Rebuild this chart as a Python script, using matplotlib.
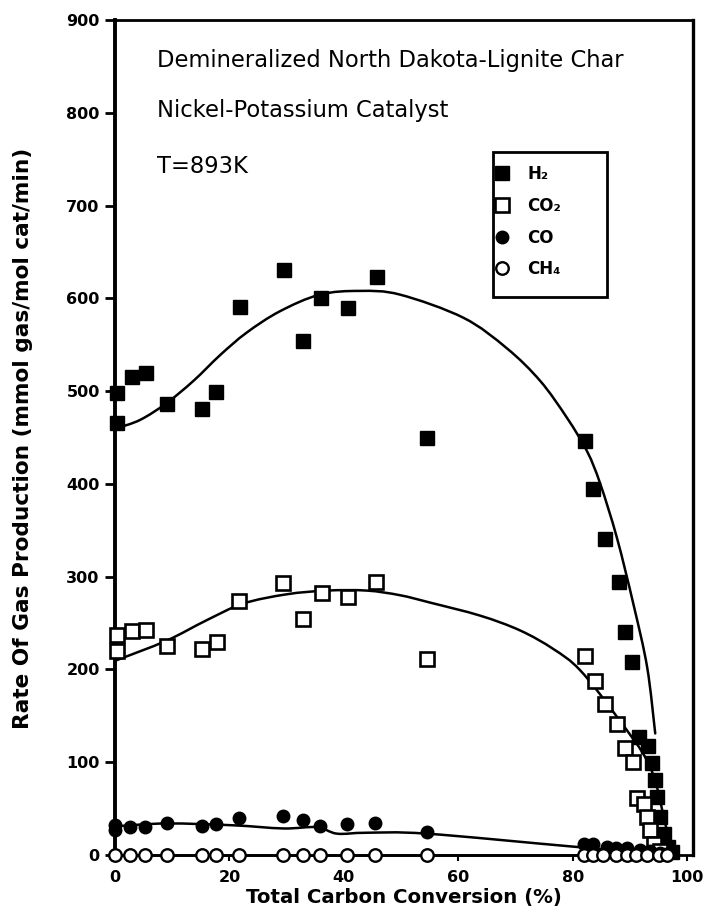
import matplotlib
matplotlib.use("Agg")
import matplotlib.pyplot as plt
from matplotlib.path import Path
from matplotlib.patches import PathPatch, Rectangle
import numpy as np

# ---------------- data ----------------
h2_x = [0.3, 0.3, 2.9, 5.4, 9.0, 15.2, 17.7, 21.9, 29.6, 32.9, 36.0, 40.8, 45.7, 54.6,
        82.2, 83.6, 85.7, 88.0, 89.2, 90.3, 91.5, 93.2, 93.8, 94.4, 94.7, 95.3, 95.9, 96.7, 97.4]
h2_y = [498, 466, 515, 520, 486, 481, 499, 591, 631, 554, 600, 590, 623, 449,
        446, 394, 341, 294, 240, 208, 127, 118, 99, 81, 63, 41, 23, 9, 3]

co2_x = [0.3, 0.3, 2.9, 5.5, 9.0, 15.2, 17.8, 21.6, 29.4, 32.9, 36.1, 40.8, 45.6, 54.6,
         82.2, 83.9, 85.7, 87.7, 89.2, 90.5, 91.2, 92.4, 93.0, 93.5, 94.1, 95.2]
co2_y = [237, 220, 241, 243, 225, 222, 230, 274, 293, 254, 282, 278, 294, 211,
         215, 188, 163, 141, 115, 100, 61, 55, 41, 27, 12, 4]

co_x = [0.0, 0.0, 2.6, 5.2, 9.0, 15.2, 17.7, 21.7, 29.3, 32.8, 35.8, 40.5, 45.5, 54.5,
        81.9, 83.6, 85.9, 87.6, 89.4, 91.7, 93.4, 95.2, 96.3]
co_y = [32, 27, 30, 30, 35, 31, 33, 40, 42, 38, 31, 33, 34, 25,
        12, 12, 9, 8, 8, 5, 4, 2, 1]

ch4_x = [0.0, 2.6, 5.2, 9.0, 15.2, 17.7, 21.7, 29.3, 32.8, 35.8, 40.5, 45.5, 54.5,
         81.9, 83.5, 85.3, 87.6, 89.4, 91.0, 93.0, 95.0, 96.5]
ch4_y = [0] * len(ch4_x)

# hand-drawn fitted curves
h2_cx = [0.3, 4.4, 9.0, 13.7, 18.4, 23.0, 28.8, 35.8, 42.8, 49.8, 60.9,
         68.5, 74.3, 79.0, 82.5, 84.8, 87.7, 90.6, 93.0, 94.4]
h2_cy = [460, 469, 487, 511, 539, 563, 586, 604, 608, 604, 579,
         546, 511, 471, 435, 400, 342, 270, 202, 131]

co2_cx = [0.3, 9.0, 16.0, 22.4, 30.0, 37.0, 44.0, 49.8, 55.1, 63.8, 70.8, 76.6, 81.3,
          87.7, 93.5, 96.3, 97.5]
co2_cy = [210, 231, 253, 271, 281, 285, 285, 280, 272, 258, 242, 222, 199,
          149, 95, 30, 0]

co_cx = [0.3, 9.0, 20.7, 29.4, 35.3, 38.8, 44.0, 54.5, 80.1, 97.6]
co_cy = [31, 34, 32, 28.6, 30, 23, 24, 23, 9, 0]

ch4_cx = [0.0, 97.6]
ch4_cy = [0, 0]

x_ticks = [0, 20, 40, 60, 80, 100]
y_ticks = [0, 100, 200, 300, 400, 500, 600, 700, 800, 900]
series_labels = ["H\u2082", "CO\u2082", "CO", "CH\u2084"]


def smooth_path(xs, ys):
    """Catmull-Rom style cubic Bezier path through the read curve points."""
    pts = np.column_stack([xs, ys]).astype(float)
    verts = [pts[0]]
    codes = [Path.MOVETO]
    n = len(pts)
    for i in range(n - 1):
        p0 = pts[i - 1] if i > 0 else pts[i]
        p1 = pts[i]
        p2 = pts[i + 1]
        p3 = pts[i + 2] if i + 2 < n else pts[i + 1]
        c1 = p1 + (p2 - p0) / 6.0
        c2 = p2 - (p3 - p1) / 6.0
        verts += [c1, c2, p2]
        codes += [Path.CURVE4] * 3
    return Path(verts, codes)


# ---------------- figure ----------------
plt.rcParams['font.family'] = ['DejaVu Sans']
fig = plt.figure(figsize=(7.09, 9.23), dpi=100)
ax = fig.add_axes([115 / 709, 68 / 923, 578 / 709, 835 / 923])

lw_curve = 1.8
for cx, cy in [(h2_cx, h2_cy), (co2_cx, co2_cy), (co_cx, co_cy)]:
    ax.add_patch(PathPatch(smooth_path(cx, cy), fill=False, ec='black', lw=lw_curve,
                           zorder=2, capstyle='round'))
ax.plot(ch4_cx, ch4_cy, color='black', lw=lw_curve, zorder=2, clip_on=False)

hh2, = ax.plot(h2_x, h2_y, ls='none', marker='s', ms=9.5, mfc='black', mec='black',
               clip_on=False, zorder=3, label=series_labels[0])
hco2, = ax.plot(co2_x, co2_y, ls='none', marker='s', ms=10, mfc='white', mec='black',
                mew=1.9, clip_on=False, zorder=3, label=series_labels[1])
hco, = ax.plot(co_x, co_y, ls='none', marker='o', ms=9, mfc='black', mec='black',
               clip_on=False, zorder=3, label=series_labels[2])
hch4, = ax.plot(ch4_x, ch4_y, ls='none', marker='o', ms=9, mfc='white', mec='black',
                mew=1.7, clip_on=False, zorder=3, label=series_labels[3])

ax.set_xlim(0, 101)
ax.set_ylim(0, 900)
ax.set_xticks(x_ticks)
ax.set_yticks(y_ticks)
ax.tick_params(axis='y', direction='out', length=7, width=2, labelsize=11.5, pad=4)
ax.tick_params(axis='x', direction='out', length=4, width=1.5, labelsize=11.5, pad=7)
for lab in ax.get_xticklabels() + ax.get_yticklabels():
    lab.set_fontweight('bold')

for side, w in [('left', 2.8), ('right', 2.4), ('top', 2.0), ('bottom', 2.0)]:
    ax.spines[side].set_linewidth(w)
    ax.spines[side].set_color('black')

ax.set_xlabel("Total Carbon Conversion (%)", fontsize=14.2, fontweight='bold')
ax.set_ylabel("Rate Of Gas Production (mmol gas/mol cat/min)", fontsize=15.6,
              fontweight='bold')
ax.xaxis.set_label_coords(0.5, -0.040)
ax.yaxis.set_label_coords(-0.142, 0.499)

ax.text(0.0727, 0.952, "Demineralized North Dakota-Lignite Char", transform=ax.transAxes,
        fontsize=16.3, va='center', ha='left')
ax.text(0.0727, 0.892, "Nickel-Potassium Catalyst", transform=ax.transAxes,
        fontsize=16.3, va='center', ha='left')
ax.text(0.0727, 0.824, "T=893K", transform=ax.transAxes,
        fontsize=16.3, va='center', ha='left')

# legend: entries placed by matplotlib, box drawn as a separate frame
leg = ax.legend(handles=[hh2, hco2, hco, hch4], loc='upper left',
                bbox_to_anchor=(0.664, 0.826),
                prop={'weight': 'bold', 'size': 12},
                handlelength=0.4, handletextpad=1.3, borderpad=0.0,
                labelspacing=0.82, frameon=False, borderaxespad=0)
ax.add_patch(Rectangle((0.654, 0.668), 0.197, 0.174, transform=ax.transAxes,
                       fill=False, ec='black', lw=2, zorder=4))

fig.savefig("out.png", dpi=100, facecolor='white')
